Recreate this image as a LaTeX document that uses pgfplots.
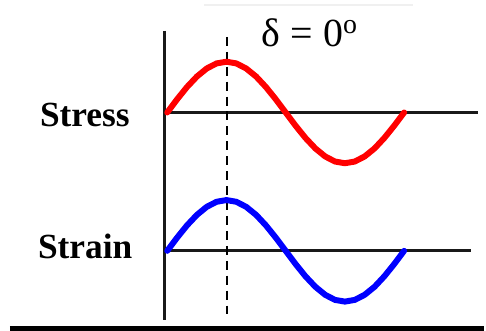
\documentclass[border=0pt]{standalone}
\usepackage{pgfplots}
\pgfplotsset{compat=1.18}
\usepackage{fontspec}
\setmainfont{Liberation Serif}

% One period of each signal, sampled every 15 degrees
\pgfplotstableread{
x      stress  strain
168.0  219.0   80.0
177.9  232.2   93.2
187.8  244.5   105.5
197.8  255.1   116.1
207.7  263.2   124.2
217.6  268.3   129.3
227.5  270.0   131.0
237.4  268.3   129.3
247.3  263.2   124.2
257.3  255.1   116.1
267.2  244.5   105.5
277.1  232.2   93.2
287.0  219.0   80.0
296.9  205.8   66.8
306.8  193.5   54.5
316.8  182.9   43.9
326.7  174.8   35.8
336.6  169.7   30.7
346.5  168.0   29.0
356.4  169.7   30.7
366.3  174.8   35.8
376.3  182.9   43.9
386.2  193.5   54.5
396.1  205.8   66.8
406.0  219.0   80.0
}\waves

\begin{document}
\begin{tikzpicture}
\begin{axis}[
  width=486pt, height=332pt, scale only axis,
  xmin=0, xmax=486, ymin=0, ymax=332,
  hide axis, clip=false,
]
\path (axis cs:0,0) rectangle (axis cs:486,332);

% faint rule at the top
\draw[gray!12, line width=1.2pt] (axis cs:205,327) -- (axis cs:415,327);

% baselines and vertical axis
\addplot[black!90, line width=3.2pt, forget plot] coordinates {(165,219) (480,219)};
\addplot[black!90, line width=3.2pt, forget plot] coordinates {(165,80) (473,80)};
\addplot[black!90, line width=2.8pt, forget plot] coordinates {(165.5,301) (165.5,11)};
% bottom rule
\addplot[black, line width=4.5pt, forget plot] coordinates {(10,2) (486,2)};

% dashed marker at the peak
\addplot[black, line width=1.8pt, dash pattern=on 9pt off 6pt, forget plot]
  coordinates {(228,295) (228,17)};

% signals
\addplot[red, line width=6pt, line join=round, line cap=round] table[x=x, y=stress] {\waves};
\addplot[blue, line width=6pt, line join=round, line cap=round] table[x=x, y=strain] {\waves};

% labels
\node[anchor=base west, inner sep=0pt, font=\fontsize{35.5}{37}\selectfont\bfseries] at (axis cs:40,205) {Stress};
\node[anchor=base west, inner sep=0pt, font=\fontsize{35.5}{37}\selectfont\bfseries] at (axis cs:38,72) {Strain};
\node[anchor=base west, inner sep=0pt, font=\fontsize{40}{42}\selectfont] at (axis cs:263,285)
  {δ = 0\raisebox{13pt}{\fontsize{28}{28}\selectfont o}};
\end{axis}
\end{tikzpicture}
\end{document}
